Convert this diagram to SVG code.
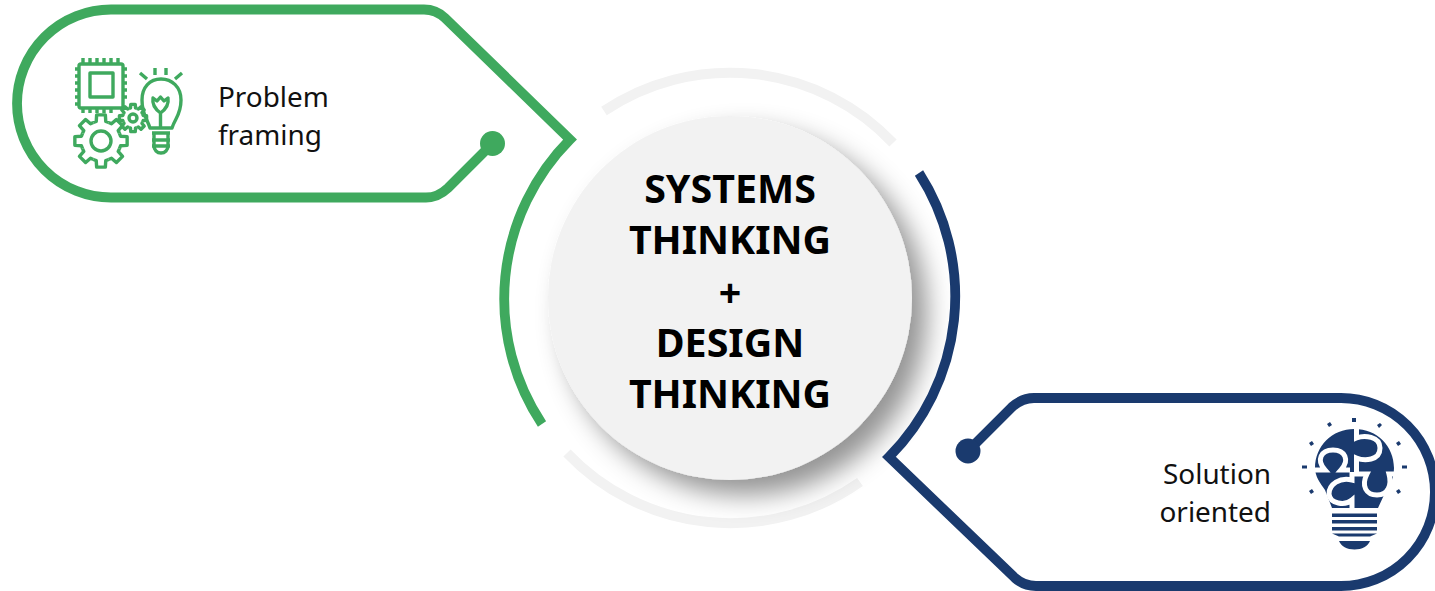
<svg xmlns="http://www.w3.org/2000/svg" width="1435" height="591" viewBox="0 0 1435 591">
<style>
.lbl{font-family:"Noto Sans","Open Sans",sans-serif;font-size:27.900px;fill:#111}
.ttl{font-family:"Noto Sans","Open Sans",sans-serif;font-size:39.400px;font-weight:700;fill:#000;text-anchor:middle}
.g{fill:none;stroke:#3fa95e;stroke-width:9.800;stroke-linejoin:miter}
.b{fill:none;stroke:#1a3a6e;stroke-width:9.800;stroke-linejoin:miter}
.ring{fill:none;stroke:#f2f2f2;stroke-width:10}
.ig{fill:none;stroke:#3fa95e;stroke-width:3.400;stroke-linecap:butt;stroke-linejoin:round}
.seam{fill:none;stroke:#fff;stroke-width:5}
.ray{fill:#1a3a6e}
</style>
<defs>
<filter id="sh" x="-30%" y="-30%" width="170%" height="170%"><feDropShadow dx="15" dy="15" stdDeviation="13" flood-color="#000" flood-opacity="0.42"/></filter>
<path id="tooth" d="M-7.65-18.48L-4.76-19.56L-4.36-26.14H4.36L4.76-19.56L7.65-18.48"/>
<g id="gear">
<use href="#tooth"/><use href="#tooth" transform="rotate(45)"/><use href="#tooth" transform="rotate(90)"/><use href="#tooth" transform="rotate(135)"/><use href="#tooth" transform="rotate(180)"/><use href="#tooth" transform="rotate(225)"/><use href="#tooth" transform="rotate(270)"/><use href="#tooth" transform="rotate(315)"/>
</g>
</defs>
<g id="connectors">
<path class="ring" d="M604 111A225 225 0 0 1 893 143"/>
<path class="ring" d="M567 453A225 225 0 0 0 860 482"/>
<path class="g" d="M492 144L448 188Q438 197.500 426 197.500H111A94 94 0 0 1 111 9.500H424Q436 9.500 445 18L570 139.500A226 226 0 0 0 542 424"/>
<circle cx="492.500" cy="143.500" r="12.500" fill="#3fa95e"/>
</g>
<g id="center-node">
<circle cx="730" cy="298" r="182" fill="#f2f2f2" filter="url(#sh)"/>
<text class="ttl" x="730" y="203">SYSTEMS</text>
<text class="ttl" x="730" y="254">THINKING</text>
<text class="ttl" x="730" y="307">+</text>
<text class="ttl" x="730" y="357">DESIGN</text>
<text class="ttl" x="730" y="408">THINKING</text>
</g>
<g id="connectors-blue">
<path class="b" d="M968 451L1012 407Q1022 398 1034 398H1341A94 94 0 0 1 1341 586H1036Q1024 586 1015 578L889 457A228 228 0 0 0 919 173"/>
<circle cx="968" cy="451" r="12.500" fill="#1a3a6e"/>
</g>
<g id="problem-node">
<text class="lbl" x="218" y="107">Problem</text>
<text class="lbl" x="218" y="145">framing</text>
<g id="problem-icon" class="ig">
<rect x="79" y="64" width="44" height="44" rx="2"/>
<rect x="90" y="73" width="23" height="24"/>
<path d="M83 58v5M90 58v5M97 58v5M104 58v5M111 58v5M118 58v5M83 108v5M90 108v5M97 108v5M104 108v5M111 108v5M75 69h4M75 76h4M75 83h4M75 90h4M75 97h4M75 104h4M123 69h4M123 76h4M123 83h4M123 90h4M123 97h4"/>
<use href="#gear" transform="translate(101 141)"/>
<circle cx="101" cy="141" r="10"/>
<use href="#gear" transform="translate(133 118) scale(.52)" stroke-width="6.500"/>
<circle cx="133" cy="118" r="4"/>
<path d="M150 128C147 118 142 115 142 100C142 87 150 79 161 79C172 79 181 87 181 100C181 115 175 118 172 128Z"/>
<path d="M160.500 128V113M160.500 113C155 109 152 104 153 98L157 101L160.500 97L164 101L168 98C169 104 166 109 160.500 113Z"/>
<path d="M152 133H170M152 140H170M152 146H170M154 133V146C154 150 157 153 161 153C165 153 168 150 168 146V133"/>
<path d="M140 73L147 79M155 68V75M166 68V75M182 73L175 79"/>
</g>
</g>
<g id="solution-node">
<text class="lbl" x="1271" y="484" text-anchor="end">Solution</text>
<text class="lbl" x="1271" y="522" text-anchor="end">oriented</text>
<g id="solution-icon">
<path class="ray" d="M1315 468C1315 446 1332 429 1354.500 429C1377 429 1394 446 1394 468C1394 480 1388 489 1384 495L1378 508H1332L1325 490C1320 483 1315 476 1315 468Z"/>
<path class="seam" d="M1356.500 428V438C1364 435 1380 436 1380 448C1380 461 1364 461 1356.500 458V472"/>
<path class="seam" d="M1314 470H1325C1316 460 1321 450 1333 450C1345 450 1350 460 1341 470H1350M1354 474H1367C1361 486 1366 495 1377 495C1388 495 1392 485 1389 474H1396"/>
<path class="seam" d="M1352 472V480C1340 477 1329 484 1329 494C1330 504 1345 506 1352 500V510"/>
<path class="ray" d="M1332 513.500H1377V517H1332ZM1332 520H1377V523.500H1332ZM1332 527H1377V530.500H1332ZM1332 533.500H1377L1370 536.500H1339ZM1339 541H1370C1368 546 1362 549.500 1354.500 549.500C1347 549.500 1341 546 1339 541Z"/>
<path class="ray" d="M1352 418h4v4h-4ZM1327 424l3-2 2 3-3 2ZM1377 425l3-2 2 2-3 3ZM1309 443l3-2 2 3-3 2ZM1396 443l3-2 2 3-3 2ZM1302 465.500h5v3h-5ZM1402 465.500h5v3h-5ZM1309 491l3-2 2 3-3 2ZM1396 491l3-2 2 3-3 2Z"/>
</g>
</g>
</svg>
